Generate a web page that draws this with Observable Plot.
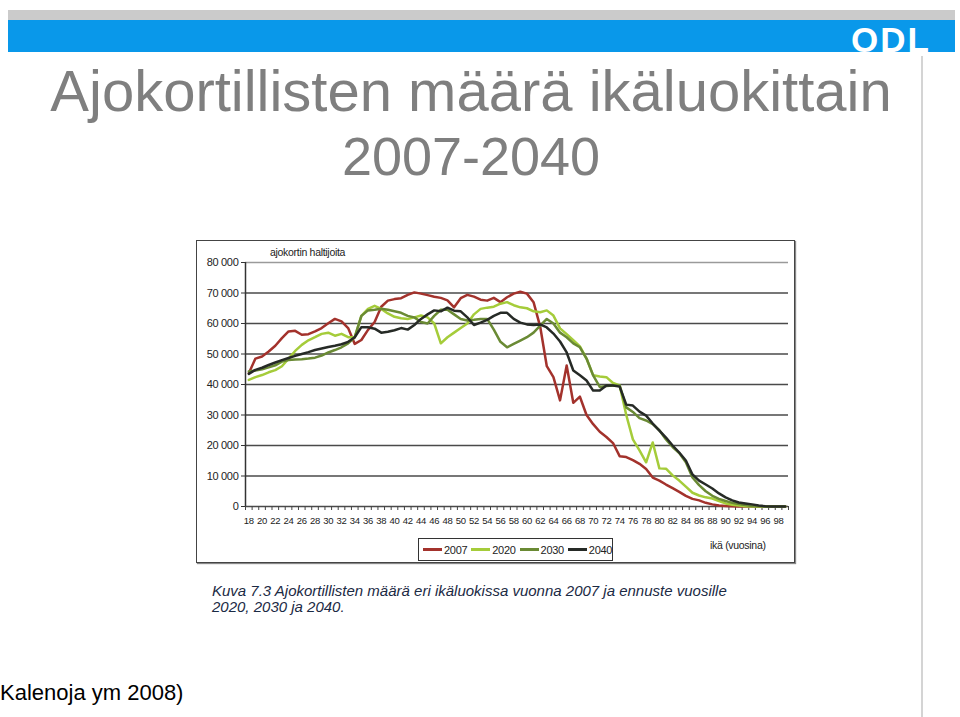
<!DOCTYPE html>
<html><head><meta charset="utf-8">
<script src="https://cdn.jsdelivr.net/npm/d3@7"></script>
<script src="https://cdn.jsdelivr.net/npm/@observablehq/plot@0.6"></script>
<style>
html,body{margin:0;padding:0;background:#fff;}
body{width:960px;height:717px;overflow:hidden;position:relative;font-family:"Liberation Sans",Arial,sans-serif;}
.abs{position:absolute;white-space:nowrap;}
#graybar{left:8px;top:10px;width:947px;height:10px;background:#cbcbcb;}
#bluebar{left:8px;top:20px;width:947px;height:32px;background:#0998ea;}
#logo{position:absolute;left:843px;top:6px;color:#fff;font-weight:bold;font-size:35px;line-height:28px;letter-spacing:2px;}
#vline{left:921px;top:56px;width:2px;height:661px;background:#d4d4d4;}
.title{left:0;width:942px;text-align:center;color:#7f7f7f;}
#frame{left:196px;top:240px;width:597px;height:321px;border:1.5px solid #444;box-shadow:1px 1px 1px #888;background:#fff;}
#chart{left:197px;top:241px;}
#chart svg text{letter-spacing:-0.3px;}
.narrow{font-family:"Liberation Sans",Arial,sans-serif;color:#222;letter-spacing:-0.3px;}
#ylab{left:270px;top:246px;font-size:10.5px;}
#xlab{left:710px;top:539px;font-size:10.5px;}
#legend{left:418px;top:538px;width:193px;height:21px;border:1px solid #333;display:flex;align-items:center;font-size:11px;}
.item{display:flex;align-items:center;margin-left:4px;}
.sw{width:19px;height:2.5px;margin-right:2px;}
.caption{left:212px;font-size:15px;font-style:italic;color:#1b2a44;}
#source{left:0;top:680px;font-size:22px;color:#000;}
</style></head>
<body>
<div id="graybar" class="abs"></div>
<div id="bluebar" class="abs"><div id="logo">ODL</div></div>
<div id="vline" class="abs"></div>
<div class="abs title" style="top:62px;font-size:58px;line-height:58px;">Ajokortillisten määrä ikäluokittain</div>
<div class="abs title" style="top:129px;font-size:54px;line-height:54px;">2007-2040</div>
<div id="frame" class="abs"></div>
<div id="chart" class="abs"></div>
<div id="ylab" class="abs narrow">ajokortin haltijoita</div>
<div id="legend" class="abs narrow"></div>
<div id="xlab" class="abs narrow">ikä (vuosina)</div>
<div class="abs caption" style="top:582px">Kuva 7.3 Ajokortillisten määrä eri ikäluokissa vuonna 2007 ja ennuste vuosille</div>
<div class="abs caption" style="top:598px">2020, 2030 ja 2040.</div>
<div id="source" class="abs">Kalenoja ym 2008)</div>
<script>
// ages 18..99 (one category per year)
const ages = d3.range(18, 100);
const labelAges = [18,20,22,24,26,28,30,32,34,36,38,40,42,44,46,48,50,52,54,56,58,60,62,64,66,68,70,72,74,76,78,80,82,84,86,88,90,92,94,96,98];
const yTicks = [0,10,20,30,40,50,60,70,80]; // thousands
const seriesNames = ["2007","2020","2030","2040"];
const seriesColors = ["#a3322c","#a5cc3a","#6a8a34","#262a26"];

// values in thousands of licence holders, ages 18..99
const v2007 = [43.7,48.5,49.2,50.8,52.7,55.2,57.4,57.6,56.3,56.5,57.4,58.5,60.1,61.5,60.7,58.5,53.3,54.6,57.9,60.5,
  65.5,67.5,68.0,68.3,69.4,70.2,69.8,69.3,68.8,68.4,67.6,65.3,68.3,69.4,68.8,67.8,67.5,68.4,67.0,68.6,
  69.8,70.4,69.8,67.0,59.0,46.0,42.4,34.8,46.2,34.0,36.0,30.0,27.0,24.5,22.8,20.8,16.5,16.2,15.2,14.0,
  12.3,9.5,8.5,7.2,6.0,4.8,3.5,2.5,2.0,1.2,0.7,0.3,0.2,0.1,0,0,0,0,0,0,0,0];
const v2020 = [41.5,42.4,43.1,44.0,44.7,46.0,48.5,51.0,53.0,54.5,55.5,56.6,57.0,56.0,56.6,55.5,55.5,62.5,64.8,65.8,
  64.8,63.3,62.2,61.7,61.5,62.0,62.6,62.0,60.0,53.5,55.5,57.0,58.5,60.0,63.0,64.8,65.2,65.5,66.5,67.0,
  66.0,65.3,65.0,64.0,63.7,64.3,62.6,58.4,56.5,54.5,52.5,48.5,43.0,42.6,42.4,40.5,39.7,30.0,22.0,18.4,
  14.5,21.0,12.5,12.4,10.2,8.5,6.5,4.5,3.6,3.0,2.6,1.8,1.0,0.6,0.3,0.1,0,0,0,0,0,0];
const v2030 = [44.3,44.6,45.0,45.6,46.3,47.5,48.0,48.2,48.3,48.5,48.8,49.5,50.5,51.3,52.2,53.5,55.5,62.5,64.3,64.5,
  64.8,64.5,64.0,63.5,62.5,62.0,60.5,60.0,62.5,64.5,64.5,63.0,61.5,61.0,61.2,61.5,61.5,58.0,54.0,52.2,
  53.3,54.4,55.5,57.0,59.3,61.5,60.0,57.0,55.5,53.5,52.2,48.5,43.0,39.2,39.5,39.7,39.7,32.5,31.0,29.0,
  28.2,27.0,25.0,22.0,19.5,17.5,14.5,9.5,7.0,5.0,3.5,2.5,1.8,1.2,0.8,0.5,0.2,0.1,0,0,0,0];
const v2040 = [43.5,44.8,45.5,46.4,47.2,48.0,48.7,49.4,50.0,50.6,51.3,51.8,52.3,52.7,53.2,54.0,55.5,58.8,58.8,58.3,
  57.0,57.3,57.8,58.5,58.0,59.5,61.5,63.0,64.3,64.0,65.2,64.2,64.0,62.0,59.5,60.3,61.2,62.5,63.5,63.5,
  61.5,60.3,59.7,59.5,59.7,58.7,56.7,54.1,50.5,44.6,43.0,41.3,38.0,38.0,39.7,39.7,39.3,33.4,33.1,31.1,
  29.8,27.2,24.9,22.6,20.0,17.7,15.1,10.5,8.5,7.2,5.9,4.3,3.0,2.0,1.3,1.0,0.7,0.3,0.1,0,0,0];

const seriesValues = [v2007, v2020, v2030, v2040];
const table = seriesNames.flatMap((name, s) => ages.map((age, i) => ({age, value: seriesValues[s][i], series: name})));
const boundaries = ages.map(a => a - 0.5).concat([ages[ages.length - 1] + 0.5]);
const fmt = d => d === 0 ? "0" : d3.format(",")(d * 1000).replace(",", " ");

const chart = Plot.plot({
  width: 598, height: 322,
  marginLeft: 48, marginRight: 7, marginTop: 21, marginBottom: 57,
  style: {fontFamily: "'Liberation Sans',Arial,sans-serif", fontSize: "11px", color: "#222", background: "transparent", overflow: "visible"},
  x: {domain: [17.5, 99.5], label: null},
  y: {domain: [0, 80], label: null},
  color: {domain: seriesNames, range: seriesColors},
  marks: [
    Plot.gridY(yTicks.filter(d => d < 80), {stroke: "#4a4a4a", strokeOpacity: 1, strokeWidth: 1.4}),
    Plot.gridY([80], {stroke: "#9a9a9a", strokeOpacity: 1, strokeWidth: 1.4}),
    Plot.ruleX([17.5], {stroke: "#333", strokeWidth: 1.5}),
    Plot.axisY(yTicks, {tickSize: 4, tickPadding: 3, tickFormat: fmt, stroke: "#333", fontSize: 11}),
    Plot.axisX(boundaries, {tickSize: 4, tickFormat: () => "", stroke: "#444"}),
    Plot.axisX(labelAges, {tickSize: 0, tickPadding: 11, fontSize: 9.5}),
    Plot.lineY(table, {x: "age", y: "value", z: "series", stroke: "series", strokeWidth: 2.5, strokeLinejoin: "round", curve: "linear"})
  ]
});
document.getElementById("chart").appendChild(chart);

// legend
const legend = document.getElementById("legend");
seriesNames.forEach((name, i) => {
  const item = document.createElement("div");
  item.className = "item";
  const sw = document.createElement("div");
  sw.className = "sw";
  sw.style.background = seriesColors[i];
  const t = document.createElement("span");
  t.textContent = name;
  item.appendChild(sw); item.appendChild(t);
  legend.appendChild(item);
});
</script>
</body></html>
